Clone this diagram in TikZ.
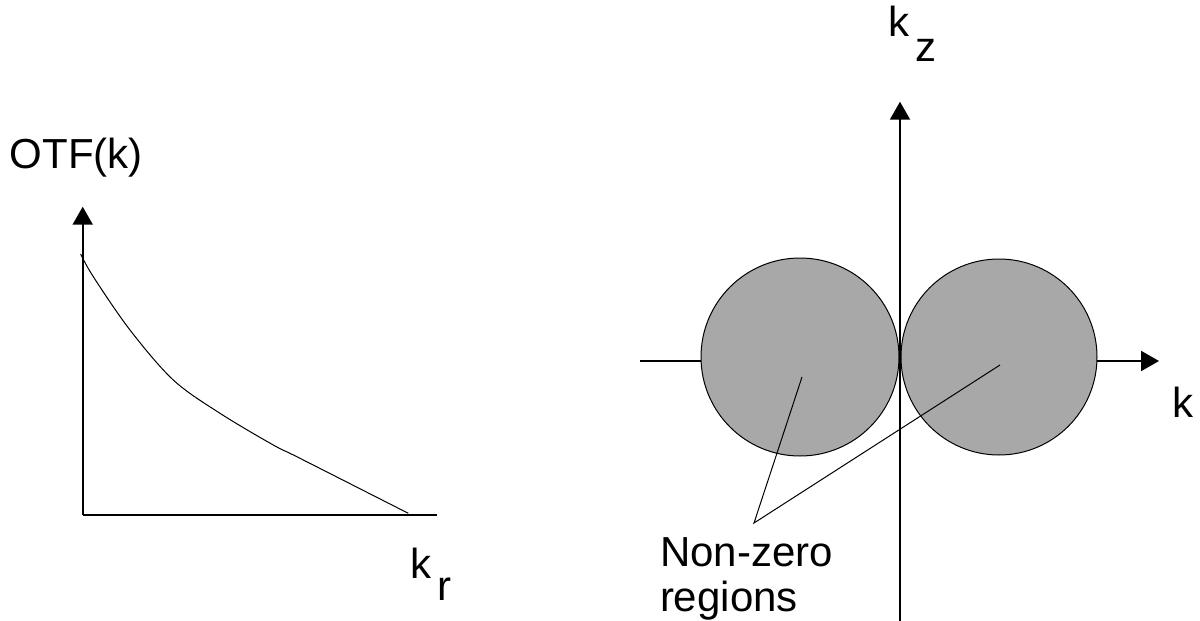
\documentclass[tikz,border=0pt]{standalone}
\usepackage{fontspec}
\setmainfont{Liberation Sans}
\usetikzlibrary{arrows.meta}
\begin{document}
\begin{tikzpicture}[x=0.5pt,y=-0.5pt,
  axis/.style={line width=1pt, draw=black, -{Triangle[length=9pt,width=10pt]}},
  plainaxis/.style={line width=1pt, draw=black},
  thin line/.style={line width=0.5pt, draw=black},
  lbl/.style={inner sep=0pt, outer sep=0pt, anchor=base west, font=\fontsize{21pt}{24pt}\selectfont},
  region/.style={circle, inner sep=0pt, outer sep=0pt, fill=black!34, draw=black, line width=0.5pt}]
\useasboundingbox (0,0) rectangle (1200,621);
% ---- left plot ----
\coordinate (lo) at (82.7,515);
\coordinate (ly) at (82.7,206.7);
\coordinate (lx) at (436.7,515);
\draw[axis] (lo) -- (ly);
\draw[plainaxis] (lo) -- (lx);
\draw[thin line] plot[smooth, tension=0.55] coordinates {(80.7,254) (93.3,276.7) (130,330) (173.3,380) (220,413.3) (273.3,445) (300,458.3) (408.3,513.3)};
\node[lbl] (otf) at (10,168.5) {OTF(k)};
\node[lbl] (kr) at (410,578) {k\hspace{3pt}\raisebox{-11.3pt}{r}};
% ---- right plot ----
\coordinate (vb) at (900,621);
\coordinate (vt) at (900,101.7);
\coordinate (hl) at (640,361);
\coordinate (hr) at (1159,361);
\draw[axis] (vb) -- (vt);
\draw[axis] (hl) -- (hr);
\node[region, minimum size=99pt] (c1) at (800,357) {};
\node[region, minimum size=98pt] (c2) at (999,357) {};
\coordinate (p1) at (802,377);
\coordinate (p2) at (1000,365);
\coordinate (cv) at (754,523);
\draw[thin line] (p1) -- (cv) -- (p2);
\node[lbl] (kz) at (888,36.7) {k\hspace{3pt}\raisebox{-12.5pt}{z}};
\node[lbl] (kk) at (1172,417) {k};
\node[lbl] (nz1) at (660,566) {Non-zero};
\node[lbl] (nz2) at (660,611.7) {regions};
\end{tikzpicture}
\end{document}
